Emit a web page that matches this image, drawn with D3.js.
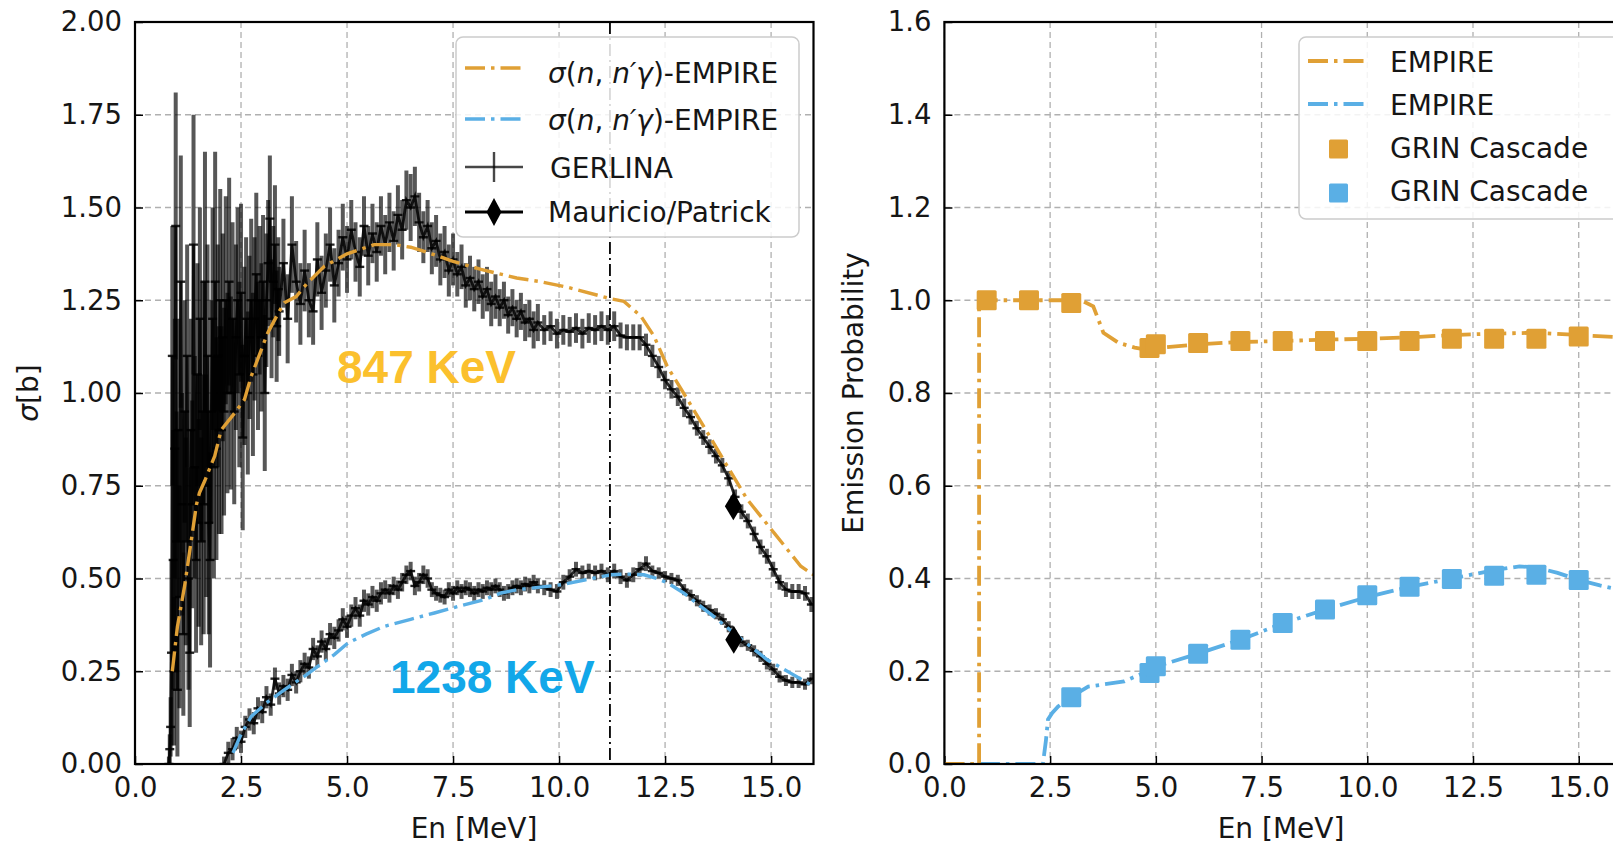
<!DOCTYPE html>
<html>
<head>
<meta charset="utf-8">
<script src="https://cdn.jsdelivr.net/npm/d3@7"></script>
<style>
  body { margin: 0; background: #ffffff; }
  svg { display: block; font-family: "DejaVu Sans", sans-serif; }
</style>
</head>
<body>
<svg id="chart" width="1613" height="844"></svg>
<script>
// ---------------- Data: left panel (cross sections) ----------------
// GERLINA 847 keV: [En (MeV), sigma (b), error (b)]
const gerlina847 = [
  [0.80,0.00,0.02],[0.82,0.04,0.04],[0.84,0.10,0.08],[0.86,0.30,0.25],[0.88,1.10,0.35],[0.90,0.55,0.35],
  [0.92,0.25,0.20],[0.94,0.85,0.35],[0.96,1.45,0.36],[0.98,0.60,0.35],[1.00,0.20,0.18],[1.02,0.90,0.30],
  [1.05,0.45,0.30],[1.08,1.30,0.34],[1.11,0.70,0.30],[1.14,0.35,0.22],[1.17,0.95,0.30],[1.20,0.60,0.28],
  [1.23,1.10,0.30],[1.26,0.50,0.30],[1.29,0.30,0.20],[1.32,0.90,0.30],[1.35,0.70,0.28],[1.38,1.40,0.35],
  [1.41,0.80,0.30],[1.44,0.55,0.25],[1.47,1.05,0.30],[1.50,0.65,0.28],[1.53,1.20,0.30],[1.56,0.60,0.28],
  [1.59,0.95,0.35],[1.62,0.70,0.35],[1.65,1.30,0.35],[1.68,0.75,0.30],[1.71,1.10,0.30],[1.74,0.65,0.30],
  [1.77,0.55,0.29],[1.80,0.95,0.30],[1.83,1.20,0.30],[1.86,0.80,0.30],[1.89,1.30,0.35],[1.92,0.85,0.30],
  [1.95,1.10,0.30],[1.98,0.90,0.28],[2.01,1.25,0.30],[2.04,0.90,0.28],[2.07,1.15,0.28],[2.10,0.95,0.28],
  [2.14,1.25,0.28],[2.18,1.00,0.27],[2.22,1.30,0.28],[2.26,1.00,0.26],[2.30,1.20,0.26],[2.34,0.95,0.25],
  [2.38,1.15,0.25],[2.42,1.25,0.25],[2.46,1.05,0.25],[2.50,1.27,0.24],[2.54,0.88,0.25],[2.58,1.10,0.24],
  [2.62,1.20,0.22],[2.66,1.00,0.22],[2.70,1.15,0.22],[2.74,1.25,0.22],[2.78,1.05,0.22],[2.82,1.20,0.22],
  [2.86,1.32,0.22],[2.90,1.10,0.20],[2.94,1.25,0.20],[2.98,1.15,0.20],[3.02,1.30,0.18],[3.06,1.00,0.21],
  [3.10,1.25,0.18],[3.14,1.35,0.17],[3.18,1.47,0.17],[3.22,1.20,0.16],[3.26,1.30,0.15],[3.30,1.40,0.16],
  [3.34,1.18,0.15],[3.38,1.28,0.14],
  [3.40,1.22,0.12],[3.50,1.35,0.12],[3.60,1.20,0.12],[3.70,1.40,0.13],[3.80,1.30,0.11],[3.90,1.24,0.11],
  [4.00,1.33,0.11],[4.10,1.25,0.10],[4.20,1.22,0.09],[4.30,1.36,0.10],[4.40,1.27,0.10],[4.50,1.33,0.10],
  [4.60,1.40,0.10],[4.70,1.29,0.10],[4.80,1.35,0.09],[4.90,1.42,0.09],[5.00,1.36,0.09],[5.10,1.44,0.08],
  [5.20,1.38,0.08],[5.30,1.34,0.08],[5.40,1.45,0.08],[5.50,1.37,0.08],[5.60,1.43,0.08],[5.70,1.38,0.08],
  [5.80,1.45,0.08],[5.90,1.40,0.08],[6.00,1.46,0.08],[6.10,1.41,0.08],[6.20,1.48,0.08],[6.30,1.44,0.08],
  [6.40,1.52,0.08],[6.50,1.50,0.09],[6.60,1.53,0.08],[6.70,1.46,0.08],[6.80,1.42,0.07],[6.90,1.45,0.07],
  [7.00,1.39,0.07],[7.10,1.41,0.07],[7.20,1.36,0.07],[7.30,1.38,0.07],[7.40,1.33,0.07],[7.50,1.36,0.07],
  [7.60,1.32,0.06],[7.70,1.34,0.06],[7.80,1.29,0.06],[7.90,1.31,0.06],[8.00,1.28,0.06],[8.10,1.30,0.06],
  [8.20,1.26,0.06],[8.30,1.28,0.06],[8.40,1.24,0.06],[8.50,1.26,0.06],[8.60,1.23,0.05],[8.70,1.25,0.05],
  [8.80,1.21,0.05],[8.90,1.23,0.05],[9.00,1.20,0.05],[9.10,1.22,0.05],[9.20,1.19,0.05],[9.30,1.20,0.05],
  [9.40,1.17,0.05],[9.50,1.19,0.05],
  [9.65,1.17,0.04],[9.80,1.18,0.04],[9.95,1.16,0.04],[10.10,1.17,0.04],[10.25,1.165,0.04],[10.40,1.175,0.04],
  [10.55,1.16,0.04],[10.70,1.175,0.04],[10.85,1.17,0.04],[11.00,1.18,0.04],[11.15,1.17,0.04],[11.30,1.18,0.04],
  [11.45,1.155,0.035],[11.60,1.15,0.035],[11.75,1.15,0.035],[11.90,1.15,0.035],[12.05,1.13,0.03],[12.20,1.10,0.03],
  [12.35,1.07,0.03],[12.50,1.035,0.025],[12.65,1.01,0.025],[12.80,0.99,0.025],[12.95,0.96,0.025],[13.10,0.935,0.02],
  [13.25,0.905,0.02],[13.40,0.88,0.02],[13.55,0.855,0.02],[13.70,0.83,0.02],[13.85,0.805,0.02],[14.00,0.77,0.02],
  [14.15,0.72,0.02],[14.30,0.68,0.02],[14.45,0.655,0.02],[14.60,0.62,0.02],[14.75,0.585,0.02],[14.90,0.56,0.02],
  [15.05,0.525,0.02],[15.20,0.49,0.02],[15.35,0.47,0.02],[15.50,0.465,0.02],[15.65,0.465,0.02],[15.80,0.46,0.02],
  [15.95,0.43,0.02]
];

// GERLINA 1238 keV: [En (MeV), sigma (b), error (b)]
const gerlina1238 = [
  [2.10,0.00,0.02],[2.20,0.03,0.03],[2.30,0.04,0.03],[2.40,0.07,0.03],[2.50,0.06,0.03],[2.60,0.10,0.03],
  [2.70,0.12,0.03],[2.80,0.11,0.03],[2.90,0.15,0.03],[3.00,0.14,0.03],[3.10,0.18,0.03],[3.20,0.16,0.03],
  [3.30,0.23,0.03],[3.40,0.19,0.03],[3.50,0.21,0.03],[3.60,0.20,0.03],[3.70,0.24,0.03],[3.80,0.22,0.03],
  [3.90,0.25,0.03],[4.00,0.27,0.03],[4.10,0.26,0.03],[4.20,0.31,0.03],[4.30,0.29,0.03],[4.40,0.33,0.03],
  [4.50,0.31,0.03],[4.60,0.35,0.03],[4.70,0.34,0.03],[4.80,0.36,0.03],[4.90,0.39,0.03],[5.00,0.37,0.03],
  [5.10,0.40,0.03],[5.20,0.42,0.03],[5.30,0.40,0.03],[5.40,0.44,0.03],[5.50,0.43,0.03],[5.60,0.45,0.03],
  [5.70,0.44,0.03],[5.80,0.46,0.03],[5.90,0.47,0.025],[6.00,0.46,0.025],[6.10,0.48,0.025],[6.20,0.47,0.025],
  [6.30,0.49,0.025],[6.40,0.51,0.025],[6.50,0.52,0.025],[6.60,0.48,0.025],[6.70,0.49,0.025],[6.80,0.51,0.025],
  [6.90,0.50,0.025],[7.00,0.47,0.02],[7.10,0.46,0.02],[7.20,0.455,0.02],[7.30,0.45,0.02],[7.40,0.47,0.02],
  [7.50,0.46,0.02],[7.60,0.475,0.02],[7.70,0.465,0.02],[7.80,0.475,0.02],[7.90,0.47,0.02],[8.00,0.46,0.02],
  [8.10,0.47,0.02],[8.20,0.465,0.02],[8.30,0.475,0.02],[8.40,0.47,0.02],[8.50,0.48,0.02],[8.60,0.47,0.02],
  [8.70,0.46,0.02],[8.80,0.465,0.02],[8.90,0.475,0.02],[9.00,0.48,0.02],[9.10,0.475,0.02],[9.20,0.485,0.02],
  [9.30,0.48,0.02],[9.40,0.49,0.02],[9.50,0.48,0.02],[9.65,0.475,0.02],[9.80,0.47,0.02],[9.95,0.465,0.02],
  [10.10,0.49,0.02],[10.25,0.505,0.02],[10.40,0.525,0.02],[10.55,0.515,0.02],[10.70,0.52,0.02],[10.85,0.515,0.02],
  [11.00,0.52,0.02],[11.15,0.51,0.02],[11.30,0.52,0.02],[11.45,0.505,0.02],[11.60,0.495,0.02],[11.75,0.51,0.02],
  [11.90,0.525,0.02],[12.05,0.54,0.02],[12.20,0.52,0.015],[12.35,0.515,0.015],[12.50,0.505,0.015],[12.65,0.50,0.015],
  [12.80,0.495,0.015],[12.95,0.47,0.015],[13.10,0.455,0.015],[13.25,0.44,0.015],[13.40,0.425,0.015],[13.55,0.415,0.015],
  [13.70,0.405,0.015],[13.85,0.39,0.015],[14.00,0.37,0.015],[14.15,0.345,0.015],[14.30,0.33,0.015],[14.45,0.32,0.015],
  [14.60,0.305,0.015],[14.75,0.29,0.015],[14.90,0.27,0.015],[15.05,0.255,0.015],[15.20,0.235,0.015],[15.35,0.225,0.015],
  [15.50,0.22,0.015],[15.65,0.22,0.015],[15.80,0.215,0.015],[15.95,0.23,0.015]
];

// EMPIRE cross sections
const empire847E = [0.88,0.90,1.00,1.17,1.33,1.45,1.52,1.64,1.88,2.03,2.35,2.58,2.74,3.13,3.40,3.52,3.80,4.07,4.47,5.00,5.64,6.11,6.50,6.82,7.50,8.16,9.00,9.57,10.20,11.22,11.53,11.93,12.24,12.55,13.03,13.50,13.97,14.44,15.07,15.70,16.00];
const empire847Sig = [0.25,0.27,0.37,0.48,0.605,0.70,0.731,0.762,0.83,0.90,0.946,0.982,1.045,1.162,1.22,1.243,1.26,1.297,1.342,1.375,1.40,1.40,1.393,1.382,1.355,1.333,1.31,1.30,1.285,1.254,1.247,1.207,1.153,1.072,0.982,0.893,0.802,0.713,0.623,0.533,0.51];
const empire1238E = [2.31,2.50,2.74,3.10,3.52,4.00,4.31,4.70,5.02,5.45,5.88,6.50,7.06,7.60,8.24,8.63,9.02,9.50,10.04,10.60,11.22,11.60,12.00,12.30,12.56,12.95,13.34,13.73,14.12,14.50,14.91,15.46,16.00];
const empire1238Sig = [0.03,0.08,0.128,0.165,0.20,0.237,0.263,0.295,0.326,0.35,0.371,0.39,0.407,0.424,0.443,0.461,0.47,0.476,0.483,0.496,0.51,0.512,0.51,0.50,0.488,0.46,0.425,0.39,0.353,0.318,0.281,0.245,0.209];

// Mauricio/Patrick points
const mauricioE = [14.11, 14.12];
const mauricioSig = [0.695, 0.335];

// Vertical dash-dot reference line
const refLineE = 11.2;

// ---------------- Data: right panel (emission probability) ----------------
const probEmpire847E = [0.0,0.82,0.82,1.0,2.0,3.0,3.3,3.52,3.76,4.12,4.5,4.8,5.0,6.0,7.0,8.0,9.0,10.0,11.0,12.0,13.0,14.0,15.0,16.0];
const probEmpire847 = [0.0,0.0,1.0,1.0,1.0,1.0,0.997,0.987,0.93,0.908,0.898,0.893,0.897,0.905,0.91,0.912,0.915,0.917,0.92,0.925,0.928,0.93,0.925,0.92];
const probEmpire1238E = [0.0,2.33,2.40,2.45,2.55,2.69,3.0,3.4,3.8,4.25,4.8,5.0,6.0,7.0,8.0,9.0,10.0,11.0,12.0,13.0,13.6,14.0,14.5,15.0,15.5,16.0];
const probEmpire1238 = [0.0,0.0,0.05,0.096,0.11,0.124,0.145,0.167,0.172,0.178,0.2,0.21,0.238,0.268,0.303,0.333,0.36,0.382,0.4,0.418,0.426,0.424,0.412,0.397,0.385,0.375];
const grin847E = [1,2,3,4.85,5,6,7,8,9,10,11,12,13,14,15];
const grin847 = [1.0,1.0,0.994,0.897,0.905,0.908,0.912,0.912,0.912,0.912,0.912,0.917,0.917,0.917,0.922];
const grin1238E = [3,4.85,5,6,7,8,9,10,11,12,13,14,15];
const grin1238 = [0.144,0.196,0.211,0.238,0.268,0.304,0.333,0.364,0.382,0.399,0.406,0.408,0.397];

// Tick values
const xTickValues = [0, 2.5, 5, 7.5, 10, 12.5, 15];
const sigmaTickValues = [0, 0.25, 0.5, 0.75, 1, 1.25, 1.5, 1.75, 2];
const probTickValues = [0, 0.2, 0.4, 0.6, 0.8, 1, 1.2, 1.4, 1.6];

// Colours
const orange = "#e0a035";
const blue = "#5aafe5";
const textColor = "#161616";

// PanelSpecs holds the pixel frame and scales of one subplot.
class PanelSpecs {
    constructor(id, left, right, top, bottom, xMax, yMax, yTicks, yFormat){
        this.id = id;
        this.left = left;
        this.right = right;
        this.top = top;
        this.bottom = bottom;
        this.yTicks = yTicks;
        this.yFormat = yFormat;
        this.x = d3.scaleLinear().domain([0, xMax]).range([left, right]);
        this.y = d3.scaleLinear().domain([0, yMax]).range([bottom, top]);
    }
}

const svg = d3.select("#chart");
const leftSpecs = new PanelSpecs("left", 135, 813.5, 22, 764, 16, 2, sigmaTickValues, ".2f");
const rightSpecs = new PanelSpecs("right", 944.4, 1621, 22, 764, 16, 1.6, probTickValues, ".1f");

// Draw the grid and axes of a panel, return the clipped plot group.
function drawPanel(specs){
    const defs = svg.append("defs");
    defs.append("clipPath").attr("id", "clip-" + specs.id)
        .append("rect")
        .attr("x", specs.left).attr("y", specs.top)
        .attr("width", specs.right - specs.left).attr("height", specs.bottom - specs.top);

    // Grid
    const grid = svg.append("g").attr("class", "grid");
    grid.selectAll(null).data(xTickValues).enter().append("line")
        .attr("x1", d => specs.x(d)).attr("x2", d => specs.x(d))
        .attr("y1", specs.top).attr("y2", specs.bottom)
        .style("stroke", "#b0b0b0").attr("stroke-width", 1.3).attr("stroke-dasharray", "6,4");
    grid.selectAll(null).data(specs.yTicks).enter().append("line")
        .attr("x1", specs.left).attr("x2", specs.right)
        .attr("y1", d => specs.y(d)).attr("y2", d => specs.y(d))
        .style("stroke", "#b0b0b0").attr("stroke-width", 1.3).attr("stroke-dasharray", "6,4");

    // Axes with inward ticks
    const xAxis = svg.append("g")
        .attr("transform", `translate(0, ${specs.bottom})`)
        .call(d3.axisBottom(specs.x).tickValues(xTickValues).tickFormat(d3.format(".1f"))
            .tickSizeInner(-8).tickSizeOuter(0).tickPadding(13));
    const yAxis = svg.append("g")
        .attr("transform", `translate(${specs.left}, 0)`)
        .call(d3.axisLeft(specs.y).tickValues(specs.yTicks).tickFormat(d3.format(specs.yFormat))
            .tickSizeInner(-8).tickSizeOuter(0).tickPadding(13));
    [xAxis, yAxis].forEach(a => {
        a.select(".domain").remove();
        a.selectAll(".tick line").style("stroke", "#000").attr("stroke-width", 1.5);
        a.selectAll(".tick text").style("font-size", "27.5px").style("fill", textColor)
            .style("font-family", "DejaVu Sans");
    });

    return svg.append("g").attr("clip-path", `url(#clip-${specs.id})`);
}

// Draw the frame on top of the data.
function drawFrame(specs){
    svg.append("rect")
        .attr("x", specs.left).attr("y", specs.top)
        .attr("width", specs.right - specs.left).attr("height", specs.bottom - specs.top)
        .style("fill", "none").style("stroke", "#000").attr("stroke-width", 2.2);
}

// drawLine draws a dash-dot model curve.
function drawLine(g, specs, xs, ys, color, width){
    const line = d3.line()
        .x(d => specs.x(d[0]))
        .y(d => specs.y(d[1]));
    g.append("path")
        .datum(d3.zip(xs, ys))
        .attr("d", line)
        .style("fill", "none")
        .style("stroke", color)
        .attr("stroke-width", width)
        .attr("stroke-dasharray", "20,6,3.5,6");
}

// drawErrorSeries draws measured points with vertical error bars.
function drawErrorSeries(g, specs, pts){
    g.selectAll(null).data(pts).enter().append("line")
        .attr("x1", d => specs.x(d[0])).attr("x2", d => specs.x(d[0]))
        .attr("y1", d => specs.y(d[1] - Math.max(d[2], 0.015)))
        .attr("y2", d => specs.y(d[1] + Math.max(d[2], 0.015)))
        .style("stroke", "rgba(0,0,0,0.66)").attr("stroke-width", 4);
    g.append("path")
        .datum(pts)
        .attr("d", d3.line().x(d => specs.x(d[0])).y(d => specs.y(d[1])))
        .style("fill", "none").style("stroke", "rgba(0,0,0,0.85)").attr("stroke-width", 2.8);
    g.selectAll(null).data(pts).enter().append("line")
        .attr("x1", d => specs.x(d[0]) - 4.5).attr("x2", d => specs.x(d[0]) + 4.5)
        .attr("y1", d => specs.y(d[1])).attr("y2", d => specs.y(d[1]))
        .style("stroke", "rgba(0,0,0,0.85)").attr("stroke-width", 2.4);
}

// drawSquares draws square markers.
function drawSquares(g, specs, xs, ys, color, size){
    g.selectAll(null).data(d3.zip(xs, ys)).enter().append("rect")
        .attr("x", d => specs.x(d[0]) - size / 2)
        .attr("y", d => specs.y(d[1]) - size / 2)
        .attr("width", size).attr("height", size)
        .attr("rx", 1.5)
        .style("fill", color);
}

// A thin diamond marker path centred on 0,0
function diamondPath(w, h){
    return `M0,${-h / 2}L${w / 2},0L0,${h / 2}L${-w / 2},0Z`;
}

// ---------------- Left panel ----------------
const leftPlot = drawPanel(leftSpecs);
drawErrorSeries(leftPlot, leftSpecs, gerlina847);
drawErrorSeries(leftPlot, leftSpecs, gerlina1238);
drawLine(leftPlot, leftSpecs, empire847E, empire847Sig, orange, 3.4);
drawLine(leftPlot, leftSpecs, empire1238E, empire1238Sig, blue, 3.4);
leftPlot.selectAll(null).data(d3.zip(mauricioE, mauricioSig)).enter().append("path")
    .attr("d", diamondPath(17, 28))
    .attr("transform", d => `translate(${leftSpecs.x(d[0])}, ${leftSpecs.y(d[1])})`)
    .style("fill", "#000");
leftPlot.append("line")
    .attr("x1", leftSpecs.x(refLineE)).attr("x2", leftSpecs.x(refLineE))
    .attr("y1", leftSpecs.top).attr("y2", leftSpecs.bottom)
    .style("stroke", "#000").attr("stroke-width", 1.8).attr("stroke-dasharray", "12,4,2,4");
drawFrame(leftSpecs);

// Annotations
svg.append("text").attr("x", 337).attr("y", 383).text("847 KeV")
    .style("font-family", "Liberation Sans, Arial, sans-serif").style("font-weight", "bold")
    .style("font-size", "46px").style("fill", "#fbc02d");
svg.append("text").attr("x", 390).attr("y", 693).text("1238 KeV")
    .style("font-family", "Liberation Sans, Arial, sans-serif").style("font-weight", "bold")
    .style("font-size", "46px").style("fill", "#12a7e9");

// Axis labels
const sigmaLabel = svg.append("text")
    .attr("transform", "translate(38, 393) rotate(-90)")
    .attr("text-anchor", "middle").style("font-size", "28px").style("fill", textColor);
sigmaLabel.append("tspan").text("σ").style("font-style", "italic");
sigmaLabel.append("tspan").text("[b]");
svg.append("text").attr("x", 474).attr("y", 838).attr("text-anchor", "middle")
    .text("En [MeV]").style("font-size", "28px").style("fill", textColor);

// Left legend
function mathLabel(sel){
    sel.append("tspan").text("σ").style("font-style", "italic");
    sel.append("tspan").text("(");
    sel.append("tspan").text("n").style("font-style", "italic");
    sel.append("tspan").text(", ");
    sel.append("tspan").text("n′γ").style("font-style", "italic");
    sel.append("tspan").text(")-EMPIRE");
}
const legL = svg.append("g");
legL.append("rect").attr("x", 456).attr("y", 37).attr("width", 343).attr("height", 200).attr("rx", 7)
    .style("fill", "rgba(255,255,255,0.85)").style("stroke", "#cccccc").attr("stroke-width", 1.5);
const legLRows = [68, 119, 167, 212];
const legLBase = [83, 130, 178, 222];
[orange, blue].forEach((c, i) => {
    legL.append("line").attr("x1", 465).attr("x2", 523).attr("y1", legLRows[i]).attr("y2", legLRows[i])
        .style("stroke", c).attr("stroke-width", 3.4).attr("stroke-dasharray", "20,6,3.5,6");
    mathLabel(legL.append("text").attr("x", 548).attr("y", legLBase[i])
        .style("font-size", "28px").style("fill", textColor));
});
legL.append("line").attr("x1", 465).attr("x2", 523).attr("y1", legLRows[2]).attr("y2", legLRows[2])
    .style("stroke", "rgba(0,0,0,0.72)").attr("stroke-width", 2.4);
legL.append("line").attr("x1", 494).attr("x2", 494).attr("y1", legLRows[2] - 15).attr("y2", legLRows[2] + 15)
    .style("stroke", "rgba(0,0,0,0.72)").attr("stroke-width", 2.4);
legL.append("line").attr("x1", 465).attr("x2", 523).attr("y1", legLRows[3]).attr("y2", legLRows[3])
    .style("stroke", "#000").attr("stroke-width", 3);
legL.append("path").attr("d", diamondPath(15, 28))
    .attr("transform", `translate(494, ${legLRows[3]})`).style("fill", "#000");
legL.append("text").attr("x", 550).attr("y", legLBase[2]).text("GERLINA")
    .style("font-size", "28px").style("fill", textColor);
legL.append("text").attr("x", 548).attr("y", legLBase[3]).text("Mauricio/Patrick")
    .style("font-size", "28px").style("fill", textColor);

// ---------------- Right panel ----------------
const rightPlot = drawPanel(rightSpecs);
drawLine(rightPlot, rightSpecs, probEmpire1238E, probEmpire1238, blue, 3.8);
drawLine(rightPlot, rightSpecs, probEmpire847E, probEmpire847, orange, 3.8);
drawSquares(rightPlot, rightSpecs, grin847E, grin847, orange, 20);
drawSquares(rightPlot, rightSpecs, grin1238E, grin1238, blue, 20);
drawFrame(rightSpecs);

svg.append("text")
    .attr("transform", "translate(863, 393) rotate(-90)")
    .attr("text-anchor", "middle").text("Emission Probability")
    .style("font-size", "28px").style("fill", textColor);
svg.append("text").attr("x", 1281).attr("y", 838).attr("text-anchor", "middle")
    .text("En [MeV]").style("font-size", "28px").style("fill", textColor);

// Right legend
const legR = svg.append("g");
legR.append("rect").attr("x", 1299).attr("y", 37).attr("width", 340).attr("height", 182).attr("rx", 7)
    .style("fill", "rgba(255,255,255,0.85)").style("stroke", "#cccccc").attr("stroke-width", 1.5);
const legRRows = [61, 104, 149, 193];
const legRBase = [72, 115, 158, 201];
[orange, blue].forEach((c, i) => {
    legR.append("line").attr("x1", 1308).attr("x2", 1367).attr("y1", legRRows[i]).attr("y2", legRRows[i])
        .style("stroke", c).attr("stroke-width", 3.8).attr("stroke-dasharray", "20,6,3.5,6");
    legR.append("text").attr("x", 1390).attr("y", legRBase[i]).text("EMPIRE")
        .style("font-size", "28px").style("fill", textColor);
});
[orange, blue].forEach((c, i) => {
    legR.append("rect").attr("x", 1329).attr("y", legRRows[i + 2] - 9.5).attr("width", 19).attr("height", 19)
        .attr("rx", 1.5).style("fill", c);
    legR.append("text").attr("x", 1390).attr("y", legRBase[i + 2]).text("GRIN Cascade")
        .style("font-size", "28px").style("fill", textColor);
});
</script>
</body>
</html>
